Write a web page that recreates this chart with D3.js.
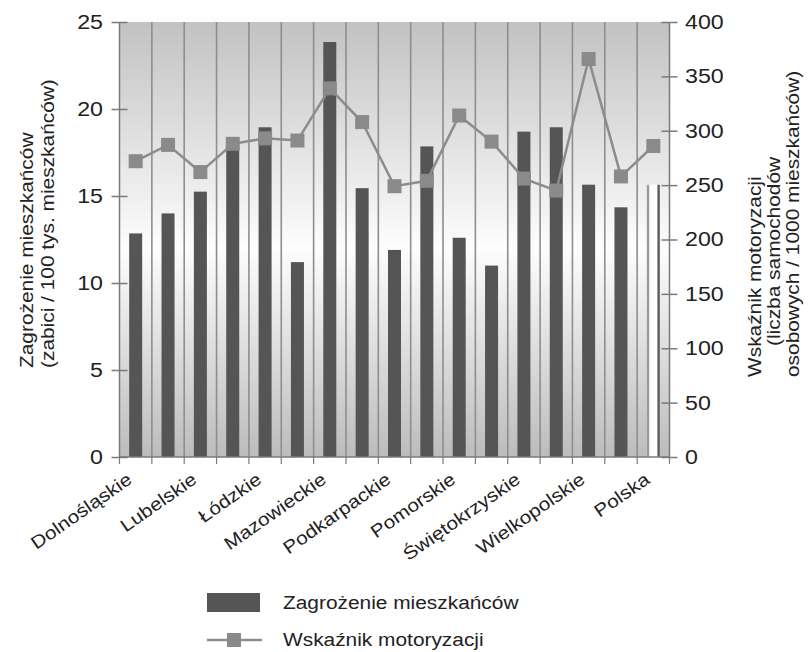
<!DOCTYPE html>
<html><head><meta charset="utf-8">
<script src="https://cdn.jsdelivr.net/npm/d3@7"></script>
<style>body{margin:0;background:#fff}svg{display:block;font-family:"Liberation Sans",Arial,sans-serif}</style>
</head><body><svg id="c" width="809" height="652"></svg>
<script>
const categories = ["Dolnośląskie","Kujawsko-Pomorskie","Lubelskie","Lubuskie","Łódzkie","Małopolskie","Mazowieckie","Opolskie","Podkarpackie","Podlaskie","Pomorskie","Śląskie","Świętokrzyskie","Warmińsko-Mazurskie","Wielkopolskie","Zachodniopomorskie","Polska"];
const zagrozenie = [12.85, 14.0, 15.25, 17.9, 18.95, 11.2, 23.85, 15.45, 11.9, 17.85, 12.6, 11.0, 18.7, 18.95, 15.65, 14.35, 15.65];
const motoryzacja = [272, 287, 262, 288, 293, 291, 339, 308, 249, 254, 314, 290, 256, 245, 366, 258, 286];
const leftTicks = [0, 5, 10, 15, 20, 25];
const rightTicks = [0, 50, 100, 150, 200, 250, 300, 350, 400];

const SX = 1.16; // horizontal stretch of the reference font
const svg = d3.select("#c");
const L = 119.5, R = 669.5, T = 22, B = 457;
const x = d3.scaleBand().domain(categories).range([L, R]).paddingInner(0).paddingOuter(0);
const yL = d3.scaleLinear().domain([0, 25]).range([B, T]);
const yR = d3.scaleLinear().domain([0, 400]).range([B, T]);

const defs = svg.append("defs");
const g = defs.append("linearGradient").attr("id","bg").attr("x1",0).attr("x2",0).attr("y1",0).attr("y2",1);
g.append("stop").attr("offset","0%").attr("stop-color","#c2c2c2");
g.append("stop").attr("offset","52%").attr("stop-color","#fdfdfd");
g.append("stop").attr("offset","100%").attr("stop-color","#bcbcbc");

svg.append("rect").attr("x",L).attr("y",T).attr("width",R-L).attr("height",B-T).attr("fill","url(#bg)");

// vertical gridlines at band boundaries
const bounds = categories.map(c => x(c)).concat([R]);
svg.append("g").selectAll("line").data(bounds.slice(1, -1)).join("line")
  .attr("x1", d=>d).attr("x2", d=>d).attr("y1", T).attr("y2", B)
  .attr("stroke","#8e8e8e").attr("stroke-width",1.6);

// bars
const bw = 13;
const barData = categories.map((c,i)=>({c, v: zagrozenie[i], last: i===categories.length-1}));
svg.append("g").selectAll("rect").data(barData.filter(d=>!d.last)).join("rect")
  .attr("x", d=>x(d.c)+x.bandwidth()/2-bw/2).attr("width", bw)
  .attr("y", d=>yL(d.v)).attr("height", d=>B-yL(d.v)).attr("fill","#555555");
// Polska bar (hollow)
const pl = barData.filter(d=>d.last);
const pg = svg.append("g");
pg.selectAll("rect").data(pl).join("rect")
  .attr("x", d=>x(d.c)+x.bandwidth()/2-bw/2).attr("width", bw)
  .attr("y", d=>yL(d.v)).attr("height", d=>B-yL(d.v)).attr("fill","#ffffff");
pg.selectAll("line.l").data(pl).join("line").attr("class","l")
  .attr("x1", d=>x(d.c)+x.bandwidth()/2-bw/2+1.2).attr("x2", d=>x(d.c)+x.bandwidth()/2-bw/2+1.2)
  .attr("y1", d=>yL(d.v)).attr("y2", B).attr("stroke","#9a9a9a").attr("stroke-width",2.4);
pg.selectAll("line.r").data(pl).join("line").attr("class","r")
  .attr("x1", d=>x(d.c)+x.bandwidth()/2+bw/2-1.2).attr("x2", d=>x(d.c)+x.bandwidth()/2+bw/2-1.2)
  .attr("y1", d=>yL(d.v)).attr("y2", B).attr("stroke","#595959").attr("stroke-width",2.4);

// line series
const lineData = categories.map((c,i)=>({c, v: motoryzacja[i]}));
svg.append("path").datum(lineData)
  .attr("d", d3.line().x(d=>x(d.c)+x.bandwidth()/2).y(d=>yR(d.v)))
  .attr("fill","none").attr("stroke","#8c8c8c").attr("stroke-width",2.5);
const ms = 14;
svg.append("g").selectAll("rect").data(lineData).join("rect")
  .attr("x", d=>x(d.c)+x.bandwidth()/2-ms/2).attr("y", d=>yR(d.v)-ms/2)
  .attr("width", ms).attr("height", ms).attr("fill","#8a8a8a");

// axes
const axisCol = "#7a7a7a";
const gl = svg.append("g").attr("transform",`translate(${L},0)`)
  .call(d3.axisLeft(yL).tickValues(leftTicks).tickSize(8));
gl.selectAll(".tick line").attr("x2", 8).attr("x1",-8);
gl.selectAll(".tick text").attr("x", -16.5/SX);
const gr = svg.append("g").attr("transform",`translate(${R},0)`)
  .call(d3.axisRight(yR).tickValues(rightTicks).tickSize(8));
gr.selectAll(".tick line").attr("x1", -8).attr("x2", 8);
gr.selectAll(".tick text").attr("x", 15.5/SX);
[gl, gr].forEach(a => {
  a.select(".domain").attr("stroke", axisCol).attr("stroke-width",1.5).attr("d", `M0,${T}V${B}`);
  a.selectAll(".tick line").attr("stroke", axisCol).attr("stroke-width",1.5);
  a.selectAll(".tick text").attr("fill","#222").attr("transform",`scale(${SX},1)`)
    .style("font-size","20px").style("font-family","'Liberation Sans',Arial,sans-serif");
});

// x axis
const gx = svg.append("g");
gx.append("line").attr("x1",L).attr("x2",R).attr("y1",B).attr("y2",B).attr("stroke",axisCol).attr("stroke-width",1.5);
gx.selectAll("line.t").data(bounds).join("line").attr("class","t")
  .attr("x1",d=>d).attr("x2",d=>d).attr("y1",B).attr("y2",B+7).attr("stroke",axisCol).attr("stroke-width",1.2);
gx.selectAll("text").data(categories.filter((c,i)=>i%2===0)).join("text")
  .attr("transform", d=>`translate(${x(d)+x.bandwidth()/2-6},${B+20}) rotate(-35) scale(${SX},1)`)
  .attr("text-anchor","end").attr("dy","0.35em")
  .style("font-size","18px").attr("fill","#222").text(d=>d);

// axis titles
const lt = svg.append("g").style("font-size","18px").attr("fill","#222");
lt.append("text").attr("transform",`translate(33,368) rotate(-90) scale(${SX},1)`).text("Zagrożenie mieszkańców");
lt.append("text").attr("transform",`translate(54,368) rotate(-90) scale(${SX},1)`).text("(zabici / 100 tys. mieszkańców)");
const rt = svg.append("g").style("font-size","18px").attr("fill","#222");
rt.append("text").attr("transform",`translate(761,377) rotate(-90) scale(${SX},1)`).text("Wskaźnik motoryzacji");
rt.append("text").attr("transform",`translate(780,346) rotate(-90) scale(${SX},1)`).text("(liczba samochodów");
rt.append("text").attr("transform",`translate(799,377) rotate(-90) scale(${SX},1)`).text("osobowych / 1000 mieszkańców)");

// legend
const lg = svg.append("g").style("font-size","18px").attr("fill","#222");
lg.append("rect").attr("x",207).attr("y",593).attr("width",53).attr("height",19).attr("fill","#555555");
lg.append("text").attr("transform",`translate(283,609) scale(${SX},1)`).text("Zagrożenie mieszkańców");
lg.append("line").attr("x1",207).attr("x2",262).attr("y1",640).attr("y2",640).attr("stroke","#8c8c8c").attr("stroke-width",2.5);
lg.append("rect").attr("x",227).attr("y",633).attr("width",14).attr("height",14).attr("fill","#8a8a8a");
lg.append("text").attr("transform",`translate(283,646) scale(${SX},1)`).text("Wskaźnik motoryzacji");
</script></body></html>
